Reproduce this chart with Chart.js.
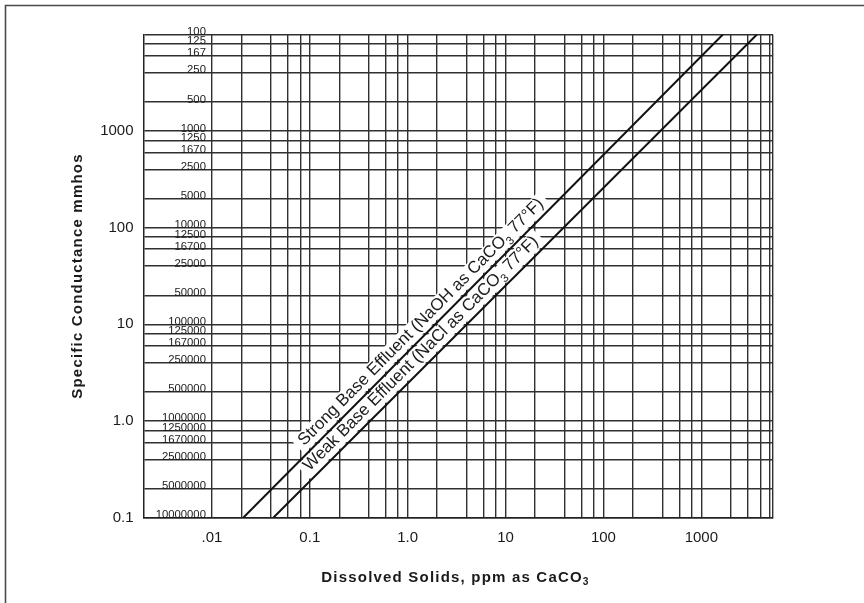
<!DOCTYPE html>
<html>
<head>
<meta charset="utf-8">
<script src="https://cdn.jsdelivr.net/npm/chart.js@4/dist/chart.umd.min.js"></script>
<style>
  html, body { margin: 0; padding: 0; background: #fff; }
  canvas { display: block; }
</style>
</head>
<body>
<canvas id="chart" width="864" height="603"></canvas>
<script>
// Specific conductance of ion-exchange effluent vs dissolved solids (log-log)

// Effluent lines: endpoints in (ppm as CaCO3, mmhos)
const strongX = [0.021, 1660];
const strongY = [0.1, 10000];
const weakX = [0.0426, 3700];
const weakY = [0.1, 10000];

// Grid positions on each axis
const xGridValues = [0.01, 0.02, 0.04, 0.06, 0.08, 0.1, 0.2, 0.4, 0.6, 0.8,
  1, 2, 4, 6, 8, 10, 20, 40, 60, 80, 100, 200, 400, 600, 800,
  1000, 2000, 3000, 4000, 5000];
const yGridValues = [0.1, 0.2, 0.4, 0.6, 0.8, 1, 2, 4, 6, 8, 10, 20, 40, 60, 80,
  100, 200, 400, 600, 800, 1000, 2000, 4000, 6000, 8000, 10000];

// Labelled ticks
const xTickValues = [0.01, 0.1, 1, 10, 100, 1000];
const xTickLabels = ['.01', '0.1', '1.0', '10', '100', '1000'];
const yTickValues = [0.1, 1, 10, 100, 1000];
const yTickLabels = ['0.1', '1.0', '10', '100', '1000'];

// Resistance scale printed on the conductance grid lines
const resistAt = [10000, 8000, 6000, 4000, 2000, 1000, 800, 600, 400, 200,
  100, 80, 60, 40, 20, 10, 8, 6, 4, 2, 1, 0.8, 0.6, 0.4, 0.2, 0.1];
const resistLabels = ['100', '125', '167', '250', '500', '1000', '1250', '1670', '2500', '5000',
  '10000', '12500', '16700', '25000', '50000', '100000', '125000', '167000', '250000', '500000',
  '1000000', '1250000', '1670000', '2500000', '5000000', '10000000'];

const X_MIN = 0.002, X_MAX = 5400, Y_MIN = 0.1, Y_MAX = 10000;

const FONT = "'Liberation Sans', Arial, Helvetica, sans-serif";

function labelFor(v, values, labels) {
  for (let i = 0; i < values.length; i++) {
    if (Math.abs(v - values[i]) / values[i] < 1e-6) return labels[i];
  }
  return '';
}

const captions = [
  { xs: strongX, ys: strongY, at: 1.66,
    parts: [['Strong Base Effluent (NaOH as CaCO', false], ['3', true], [' 77°F)', false]] },
  { xs: weakX, ys: weakY, at: 1.66,
    parts: [['Weak Base Effluent (NaCl as CaCO', false], ['3', true], [' 77°F)', false]] }
];
const CAPTION_SIZE = 17;
const CAPTION_OFFSET = 7;

function captionGeom(chart, c) {
  const sx = chart.scales.x, sy = chart.scales.y;
  const x0 = sx.getPixelForValue(c.xs[0]), y0 = sy.getPixelForValue(c.ys[0]);
  const x1 = sx.getPixelForValue(c.xs[1]), y1 = sy.getPixelForValue(c.ys[1]);
  const ang = Math.atan2(y1 - y0, x1 - x0);
  const px = sx.getPixelForValue(c.at);
  const t = (px - x0) / (x1 - x0);
  return { px, py: y0 + t * (y1 - y0), ang };
}

function partsWidth(ctx, parts, size, weight) {
  let w = 0;
  parts.forEach(([txt, sub]) => {
    ctx.font = (weight ? weight + ' ' : '') + (sub ? size * 0.68 : size) + 'px ' + FONT;
    w += ctx.measureText(txt).width;
  });
  return w;
}

function drawParts(ctx, parts, x, y, size, weight) {
  let cx = x;
  parts.forEach(([txt, sub]) => {
    ctx.font = (weight ? weight + ' ' : '') + (sub ? size * 0.68 : size) + 'px ' + FONT;
    ctx.fillText(txt, cx, sub ? y + size * 0.28 : y);
    cx += ctx.measureText(txt).width;
  });
}

const annotate = {
  id: 'annotate',
  beforeDatasetsDraw(chart) {
    // clear the grid behind the line captions
    const ctx = chart.ctx;
    captions.forEach(c => {
      const g = captionGeom(chart, c);
      const w = partsWidth(ctx, c.parts, CAPTION_SIZE);
      ctx.save();
      ctx.translate(g.px, g.py);
      ctx.rotate(g.ang);
      ctx.fillStyle = '#fff';
      ctx.fillRect(-w / 2 - 5, -CAPTION_OFFSET - CAPTION_SIZE * 0.78, w + 10, CAPTION_SIZE * 0.78 + CAPTION_OFFSET - 2);
      ctx.restore();
    });
  },
  afterDatasetsDraw(chart) {
    const ctx = chart.ctx;
    const sx = chart.scales.x, sy = chart.scales.y;
    // line captions
    captions.forEach(c => {
      const g = captionGeom(chart, c);
      const w = partsWidth(ctx, c.parts, CAPTION_SIZE);
      ctx.save();
      ctx.translate(g.px, g.py);
      ctx.rotate(g.ang);
      ctx.fillStyle = '#1c1c1c';
      ctx.textBaseline = 'alphabetic';
      ctx.textAlign = 'left';
      drawParts(ctx, c.parts, -w / 2, -CAPTION_OFFSET, CAPTION_SIZE);
      ctx.restore();
    });
    // resistance labels sitting on the conductance lines
    ctx.save();
    ctx.font = '11.3px ' + FONT;
    ctx.fillStyle = '#1c1c1c';
    ctx.textAlign = 'right';
    ctx.textBaseline = 'alphabetic';
    const rx = sx.getPixelForValue(0.01) - 6;
    resistAt.forEach((v, i) => {
      ctx.fillText(resistLabels[i], rx, sy.getPixelForValue(v) + 0.5);
    });
    ctx.restore();
  },
  afterDraw(chart) {
    const ctx = chart.ctx;
    const a = chart.chartArea;
    ctx.save();
    ctx.fillStyle = '#1a1a1a';
    ctx.textBaseline = 'middle';
    ctx.textAlign = 'left';
    ctx.letterSpacing = '1.2px';
    // x axis title, centred under the plot
    const xParts = [['Dissolved Solids, ppm as CaCO', false], ['3', true]];
    const xw = partsWidth(ctx, xParts, 15, 'bold');
    drawParts(ctx, xParts, 455.5 - xw / 2, 578, 15, 'bold');
    // y axis title
    ctx.translate(78, (a.top + a.bottom) / 2);
    ctx.rotate(-Math.PI / 2);
    ctx.textAlign = 'center';
    ctx.font = 'bold 15px ' + FONT;
    ctx.fillText('Specific Conductance mmhos', 0, 0);
    ctx.restore();
    // page frame
    ctx.save();
    ctx.strokeStyle = '#4a4a4a';
    ctx.lineWidth = 1.6;
    ctx.beginPath();
    ctx.moveTo(5.5, 603);
    ctx.lineTo(5.5, 5.5);
    ctx.lineTo(864, 5.5);
    ctx.stroke();
    ctx.restore();
  }
};

const gridStyle = { color: '#303030', lineWidth: 1.4, drawTicks: false };

new Chart(document.getElementById('chart').getContext('2d'), {
  type: 'line',
  data: {
    datasets: [
      { label: 'Strong Base Effluent (NaOH as CaCO3 77°F)',
        data: strongX.map((x, i) => ({ x, y: strongY[i] })),
        borderColor: '#111', borderWidth: 2, pointRadius: 0, fill: false, tension: 0 },
      { label: 'Weak Base Effluent (NaCl as CaCO3 77°F)',
        data: weakX.map((x, i) => ({ x, y: weakY[i] })),
        borderColor: '#111', borderWidth: 2, pointRadius: 0, fill: false, tension: 0 }
    ]
  },
  options: {
    responsive: false,
    animation: false,
    events: [],
    layout: { padding: { top: 34.5, right: 91, left: 0, bottom: 0 } },
    plugins: { legend: { display: false }, tooltip: { enabled: false }, title: { display: false } },
    scales: {
      x: {
        type: 'logarithmic', position: 'bottom', min: X_MIN, max: X_MAX,
        afterBuildTicks: s => { s.ticks = xGridValues.concat([X_MAX]).map(v => ({ value: v })); },
        afterFit: s => { s.height = 85.5; },
        ticks: {
          autoSkip: false, maxRotation: 0, minRotation: 0, padding: 11,
          font: { family: FONT, size: 15 }, color: '#1a1a1a',
          callback: v => labelFor(v, xTickValues, xTickLabels)
        },
        grid: gridStyle,
        border: { display: true, color: '#222', width: 1.5 }
      },
      y: {
        type: 'logarithmic', position: 'left', min: Y_MIN, max: Y_MAX,
        afterBuildTicks: s => { s.ticks = yGridValues.map(v => ({ value: v })); },
        afterFit: s => { s.width = 143.5; },
        ticks: {
          autoSkip: false, padding: 10,
          font: { family: FONT, size: 15 }, color: '#1a1a1a',
          callback: v => labelFor(v, yTickValues, yTickLabels)
        },
        grid: gridStyle,
        border: { display: true, color: '#222', width: 1.5 }
      }
    }
  },
  plugins: [annotate]
});
</script>
</body>
</html>
